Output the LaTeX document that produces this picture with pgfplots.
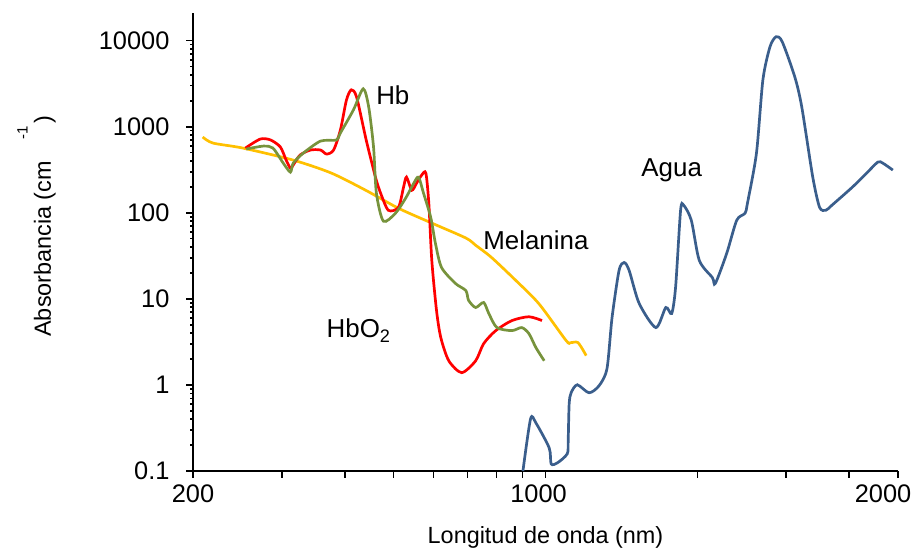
\documentclass[border=0pt]{standalone}
\usepackage{pgfplots}
\pgfplotsset{compat=1.18}
\usepackage{fontspec}
\setmainfont{Liberation Sans}
\definecolor{hbo}{HTML}{FF0000}
\definecolor{hb}{HTML}{77933C}
\definecolor{mel}{HTML}{FFC000}
\definecolor{agua}{HTML}{3A5E8C}
\begin{document}
\begin{tikzpicture}
\begin{axis}[
  scale only axis,
  width=705bp, height=458bp,
  xmode=log, ymode=log,
  xmin=200, xmax=5000, ymin=0.1, ymax=21000,
  axis lines=left,
  axis line style={line width=1.8bp, -},
  every tick/.style={line width=1.5bp, black},
  tick align=outside,
  major tick length=7bp,
  minor tick num=0,
  xtick={200,300,400,500,600,700,800,900,1000,2000,3000,4000,5000},
  xticklabels={200,,,,,,,,{\hspace*{-14bp}1000},,,,{\hspace*{-30bp}2000}},
  ytick={0.1,1,10,100,1000,10000},
  yticklabels={0.1,1,10,100,1000,10000},
  ticklabel style={font=\fontsize{25.5}{28}\selectfont},
  yticklabel style={xshift=-13bp},
  xticklabel style={yshift=-3bp},
  xlabel={Longitud de onda (nm)},
  ylabel={Absorbancia (cm\hspace{0.9em}\raisebox{1.0em}{\fontsize{15}{15}\selectfont -1}\hspace{0.15em})},
  label style={font=\fontsize{23.5}{26}\selectfont},
  xlabel style={at={(axis description cs:0.5,-0.146)}, anchor=center},
  ylabel style={at={(axis description cs:-0.222,0.535)}, anchor=center},
  clip=true,
  every axis plot/.append style={line width=2.7bp, smooth, tension=0.45},
]
% Melanina
\addplot[mel] coordinates {
(209,760) (219,647) (251,566) (316,410) (376,290) (440,183) (511,113) (595,76)
(695,51) (727,42) (781,30.4) (873,16.4) (970,8.8) (1099,3.27) (1120,3.1) (1160,3.1) (1204,2.19)
};
% HbO2 (red)
\addplot[hbo] coordinates {
(254,566) (272,721) (285,702) (298,582) (306,410) (312,331) (316,359) (326,469)
(342,537) (358,537) (368,482) (380,537) (392,918) (403,2051) (412,2687) (422,2223)
(441,702) (460,260) (471,169) (488,107) (511,116) (523,199) (530,260) (543,183)
(555,221) (568,274) (579,290) (587,129) (595,28) (608,7.3) (620,3.55) (643,1.91)
(682,1.39) (727,1.91) (754,3.02) (797,4.28) (858,5.6) (927,6.2) (984,5.6)
};
% Hb (green)
\addplot[hb] coordinates {
(255,551) (276,597) (288,566) (302,378) (312,297) (316,378) (331,495) (358,682)
(385,702) (392,847) (416,1570) (435,2761) (446,1703) (456,582) (462,169) (477,80)
(504,99) (528,148) (548,221) (560,260) (573,169) (592,89) (605,44) (622,23.2)
(663,15.1) (695,12.5) (704,9.6) (727,7.94) (754,9.08) (772,6.76) (801,4.64)
(858,4.28) (897,4.64) (927,3.95) (957,2.72) (994,1.91)
};
% Agua
\addplot[agua] coordinates {
(902,0.1) (934,0.404) (957,0.362) (1017,0.185) (1026,0.121) (1055,0.124) (1104,0.158)
(1109,0.224) (1114,0.603) (1124,0.811) (1156,1.005) (1220,0.811) (1277,0.98) (1324,1.55)
(1355,6.07) (1399,21.4) (1432,26.5) (1465,21.4) (1534,8.83) (1655,4.64) (1732,7.94)
(1779,6.76) (1811,13.6) (1853,107) (1878,123) (1946,82) (2018,28) (2142,17.7)
(2171,15.1) (2287,33.8) (2394,82) (2487,99) (2514,129) (2620,495) (2698,3508)
(2787,8511) (2866,11140) (2947,9730) (3121,3800) (3222,1703) (3388,260) (3495,116)
(3595,107) (3700,123) (4060,199) (4334,290) (4560,389) (4665,378) (4883,314)
};
\node[font=\fontsize{26}{28}\selectfont] at (axis cs:498,2350) {Hb};
\node[font=\fontsize{26}{28}\selectfont] at (axis cs:426,4.28) {HbO\textsubscript{2}};
\node[font=\fontsize{26}{28}\selectfont] at (axis cs:957,48) {Melanina};
\node[font=\fontsize{26}{28}\selectfont] at (axis cs:1779,314) {Agua};
\end{axis}
\pgfresetboundingbox
\path (current axis.south west) ++(-193bp,-82bp) rectangle ++(917bp,553bp);
\end{tikzpicture}
\end{document}
